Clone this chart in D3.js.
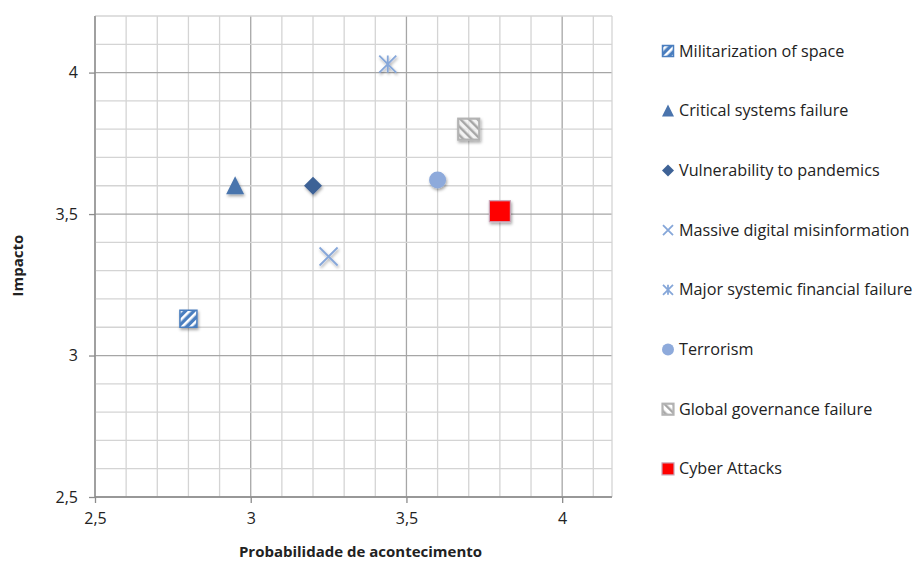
<!DOCTYPE html>
<html>
<head>
<meta charset="utf-8">
<script src="https://cdn.jsdelivr.net/npm/d3@7"></script>
<style>
  body { margin: 0; background: #fff; }
  text { font-family: "Open Sans", "Noto Sans", sans-serif; }
</style>
</head>
<body>
<div id="scatter"></div>
<script>
// data
var riskNames = ["Militarization of space", "Critical systems failure", "Vulnerability to pandemics",
  "Massive digital misinformation", "Major systemic financial failure", "Terrorism",
  "Global governance failure", "Cyber Attacks"];
var probabilidade = [2.8, 2.95, 3.2, 3.25, 3.44, 3.6, 3.7, 3.8];
var impacto = [3.13, 3.6, 3.6, 3.35, 4.03, 3.62, 3.8, 3.51];
var xTicks = [2.5, 3, 3.5, 4];
var yTicks = [2.5, 3, 3.5, 4];
var markerKinds = ["hatchSquare", "triangle", "diamond", "x", "star", "circle", "greySquare", "redSquare"];

var width = 913, height = 562;
var plot = { left: 95, right: 612, top: 16, bottom: 497 };

var svg = d3.select("#scatter").append("svg")
  .attr("width", width)
  .attr("height", height);

var defs = svg.append("defs");

// soft shadow like the office chart
var shadow = defs.append("filter").attr("id", "shadow")
  .attr("x", "-50%").attr("y", "-50%").attr("width", "200%").attr("height", "200%");
shadow.append("feDropShadow")
  .attr("dx", 1).attr("dy", 2).attr("stdDeviation", 1.6)
  .attr("flood-color", "#000").attr("flood-opacity", 0.35);

var blueHatch = defs.append("pattern").attr("id", "blueHatch")
  .attr("patternUnits", "userSpaceOnUse").attr("width", 6).attr("height", 6)
  .attr("patternTransform", "rotate(45)");
blueHatch.append("rect").attr("width", 6).attr("height", 6).attr("fill", "#4a7ebf");
blueHatch.append("rect").attr("width", 2.6).attr("height", 6).attr("fill", "#fff");

var greyHatch = defs.append("pattern").attr("id", "greyHatch")
  .attr("patternUnits", "userSpaceOnUse").attr("width", 6).attr("height", 6)
  .attr("patternTransform", "rotate(-45)");
greyHatch.append("rect").attr("width", 6).attr("height", 6).attr("fill", "rgba(255,255,255,0.6)");
greyHatch.append("rect").attr("width", 2.4).attr("height", 6).attr("fill", "#a6a6a6");

var xLinearScale = d3.scaleLinear().domain([2.5, 4.16]).range([plot.left, plot.right]);
var yLinearScale = d3.scaleLinear().domain([2.5, 4.2]).range([plot.bottom, plot.top]);

var fmt = function(d) { return String(d).replace(".", ","); };

// grid
var xMinor = d3.range(2.5, 4.16, 0.1).map(function(d) { return +d.toFixed(1); });
var yMinor = d3.range(2.5, 4.201, 0.1).map(function(d) { return +d.toFixed(1); });

var grid = svg.append("g");
grid.selectAll(".vx").data(xMinor).enter().append("line")
  .attr("x1", d => xLinearScale(d)).attr("x2", d => xLinearScale(d))
  .attr("y1", plot.top).attr("y2", plot.bottom)
  .attr("stroke", d => xTicks.indexOf(d) >= 0 ? "#a6a6a6" : "#d4d4d4")
  .attr("stroke-width", 1.3);
grid.selectAll(".hy").data(yMinor).enter().append("line")
  .attr("x1", plot.left).attr("x2", plot.right)
  .attr("y1", d => yLinearScale(d)).attr("y2", d => yLinearScale(d))
  .attr("stroke", d => yTicks.indexOf(d) >= 0 ? "#a6a6a6" : "#d4d4d4")
  .attr("stroke-width", 1.3);
grid.append("line")
  .attr("x1", plot.right).attr("x2", plot.right)
  .attr("y1", plot.top).attr("y2", plot.bottom)
  .attr("stroke", "#d4d4d4").attr("stroke-width", 1.3);

// axes
var bottomAxis = d3.axisBottom(xLinearScale).tickValues(xTicks).tickFormat(fmt).tickSize(6).tickPadding(10);
var leftAxis = d3.axisLeft(yLinearScale).tickValues(yTicks).tickFormat(fmt).tickSize(6).tickPadding(11);

var xAxis = svg.append("g")
  .attr("transform", `translate(0, ${plot.bottom})`)
  .call(bottomAxis);
var yAxis = svg.append("g")
  .attr("transform", `translate(${plot.left}, 0)`)
  .call(leftAxis);

[xAxis, yAxis].forEach(function(ax) {
  ax.select(".domain").attr("stroke", "#8c8c8c").attr("stroke-width", 1.3);
  ax.selectAll(".tick line").attr("stroke", "#8c8c8c").attr("stroke-width", 1.3);
  ax.selectAll(".tick text").attr("font-size", 16).attr("fill", "#222")
    .style("font-family", "'Open Sans', sans-serif");
});
yAxis.select(".domain").attr("d", `M0,${plot.top}V${plot.bottom}`);
xAxis.select(".domain").attr("d", `M${plot.left},0H${plot.right}`);

// axis titles
svg.append("text")
  .attr("x", (plot.left + plot.right) / 2 + 7)
  .attr("y", 557)
  .attr("text-anchor", "middle")
  .attr("font-size", 15).attr("font-weight", "bold").attr("fill", "#222")
  .text("Probabilidade  de acontecimento");

svg.append("text")
  .attr("transform", `translate(23, ${(plot.top + plot.bottom) / 2 + 9}) rotate(-90)`)
  .attr("text-anchor", "middle")
  .attr("font-size", 15).attr("font-weight", "bold").attr("fill", "#222")
  .text("Impacto");

// marker drawing, size s is the full width of the marker
function drawMarker(g, kind, s) {
  var h = s / 2;
  if (kind === "hatchSquare") {
    g.append("rect").attr("x", -h).attr("y", -h).attr("width", s).attr("height", s)
      .attr("fill", "url(#blueHatch)").attr("stroke", "#4a7ebf").attr("stroke-width", 1.5);
  } else if (kind === "triangle") {
    g.append("path").attr("d", `M0,${-h * 1.05}L${h},${h * 0.95}L${-h},${h * 0.95}Z`)
      .attr("fill", "#4a74ad");
  } else if (kind === "diamond") {
    g.append("path").attr("d", `M0,${-h}L${h},0L0,${h}L${-h},0Z`)
      .attr("fill", "#3e6296");
  } else if (kind === "x") {
    g.append("path").attr("d", `M${-h},${-h}L${h},${h}M${h},${-h}L${-h},${h}`)
      .attr("stroke", "#86a7d9").attr("stroke-width", 1.8).attr("fill", "none");
  } else if (kind === "star") {
    g.append("path").attr("d", `M${-h},${-h}L${h},${h}M${h},${-h}L${-h},${h}M0,${-h}L0,${h}`)
      .attr("stroke", "#86a7d9").attr("stroke-width", 1.8).attr("fill", "none");
  } else if (kind === "circle") {
    g.append("circle").attr("r", h).attr("fill", "#8eaadb");
  } else if (kind === "greySquare") {
    g.append("rect").attr("x", -h).attr("y", -h).attr("width", s).attr("height", s)
      .attr("fill", "url(#greyHatch)").attr("stroke", "#b3b3b3").attr("stroke-width", 2.2);
  } else if (kind === "redSquare") {
    g.append("rect").attr("x", -h).attr("y", -h).attr("width", s).attr("height", s)
      .attr("fill", "#ff0000").attr("stroke", "#c9a3b5").attr("stroke-width", 1.2);
  }
}

var plotSizes = { hatchSquare: 17, triangle: 18, diamond: 18, x: 18, star: 17, circle: 17, greySquare: 21, redSquare: 21 };
var legendSizes = { hatchSquare: 11, triangle: 12, diamond: 12, x: 10, star: 10, circle: 12, greySquare: 11, redSquare: 12 };

var points = svg.append("g").attr("filter", "url(#shadow)");
riskNames.forEach(function(name, i) {
  var g = points.append("g")
    .attr("transform", `translate(${xLinearScale(probabilidade[i])}, ${yLinearScale(impacto[i])})`);
  drawMarker(g, markerKinds[i], plotSizes[markerKinds[i]]);
});

// legend
var legend = svg.append("g").attr("transform", "translate(668, 51)");
riskNames.forEach(function(name, i) {
  var row = legend.append("g").attr("transform", `translate(0, ${i * 59.7})`);
  var m = row.append("g");
  drawMarker(m, markerKinds[i], legendSizes[markerKinds[i]]);
  row.append("text")
    .attr("x", 11).attr("y", 5.5)
    .attr("font-size", 16.2).attr("fill", "#222")
    .text(name);
});
</script>
</body>
</html>
